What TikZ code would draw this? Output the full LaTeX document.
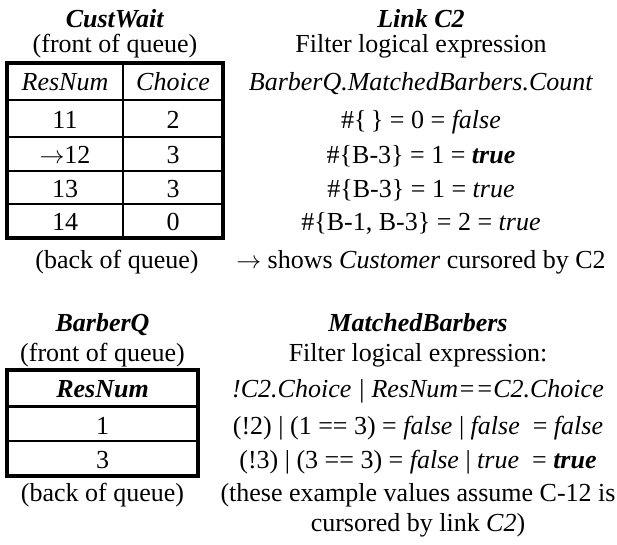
\documentclass[tikz,border=0pt]{standalone}
\usepackage{fontspec}
\setmainfont{Liberation Serif}
\begin{document}
\begin{tikzpicture}[x=1pt,y=-1pt,
  txt/.style={anchor=base,inner sep=0pt,font=\fontsize{26}{31}\selectfont},
  outerline/.style={line width=3.2pt,line join=miter},
  innerline/.style={line width=1.7pt},
  headline/.style={line width=3pt}]
\useasboundingbox[fill=white] (0,0) rectangle (617,544);

% ---------- Table CustWait ----------
\draw[innerline] (7,100) -- (223,100);
\draw[innerline] (7,137) -- (223,137);
\draw[innerline] (7,171) -- (223,171);
\draw[innerline] (7,204) -- (223,204);
\draw[innerline] (123,63) -- (123,238);
\draw[outerline] (7,63) rectangle (223,238);

\node[txt] (cwtitle) at (115,27) {\textbf{\textit{CustWait}}};
\node[txt] (cwfront) at (115,52) {(front of queue)};
\node[txt] (cwh1) at (65,90) {\textit{ResNum}};
\node[txt] (cwh2) at (173,90) {\textit{Choice}};
\node[txt] (r1a) at (65,128) {11};
\node[txt] (r1b) at (173,128) {2};
\node[txt] (r2a) at (65,163) {$\rightarrow$12};
\node[txt] (r2b) at (173,163) {3};
\node[txt] (r3a) at (65,197) {13};
\node[txt] (r3b) at (173,197) {3};
\node[txt] (r4a) at (65,230) {14};
\node[txt] (r4b) at (173,230) {0};
\node[txt] (cwback) at (117,268) {(back of queue)};

% ---------- Link C2 text ----------
\node[txt] (lktitle) at (421,27) {\textbf{\textit{Link C2}}};
\node[txt] (lk1) at (421,52) {Filter logical expression};
\node[txt] (lk2) at (421,90) {\textit{BarberQ.MatchedBarbers.Count}};
\node[txt] (lk3) at (421,128) {\#\{\,\} = 0 = \textit{false}};
\node[txt] (lk4) at (421,163) {\#\{B-3\} = 1 = \textbf{\textit{true}}};
\node[txt] (lk5) at (421,197) {\#\{B-3\} = 1 = \textit{true}};
\node[txt] (lk6) at (421,230) {\#\{B-1, B-3\} = 2 = \textit{true}};
\node[txt] (lk7) at (421,268) {$\rightarrow$ shows \textit{Customer} cursored by C2};

% ---------- Table BarberQ ----------
\draw[headline] (7,406) -- (198,406);
\draw[innerline] (7,441) -- (198,441);
\draw[outerline] (7,370) rectangle (198,476);

\node[txt] (bqtitle) at (102.5,331) {\textbf{\textit{BarberQ}}};
\node[txt] (bqfront) at (102.5,361) {(front of queue)};
\node[txt] (bqh) at (102.5,397) {\textbf{\textit{ResNum}}};
\node[txt] (bq1) at (102.5,434) {1};
\node[txt] (bq2) at (102.5,468) {3};
\node[txt] (bqback) at (102.5,501) {(back of queue)};

% ---------- MatchedBarbers text ----------
\node[txt] (mbtitle) at (418,331) {\textbf{\textit{MatchedBarbers}}};
\node[txt] (mb1) at (418,361) {Filter logical expression:};
\node[txt] (mb2) at (418,397) {\textit{!C2.Choice | ResNum==C2.Choice}};
\node[txt] (mb3) at (418,434) {(!2) | (1 == 3) = \textit{false} | \textit{false}\ \ = \textit{false}};
\node[txt] (mb4) at (418,468) {(!3) | (3 == 3) = \textit{false} | \textit{true}\ \ = \textbf{\textit{true}}};
\node[txt] (mb5) at (418,501) {(these example values assume C-12 is};
\node[txt] (mb6) at (418,531) {cursored by link \textit{C2})};
\end{tikzpicture}
\end{document}
